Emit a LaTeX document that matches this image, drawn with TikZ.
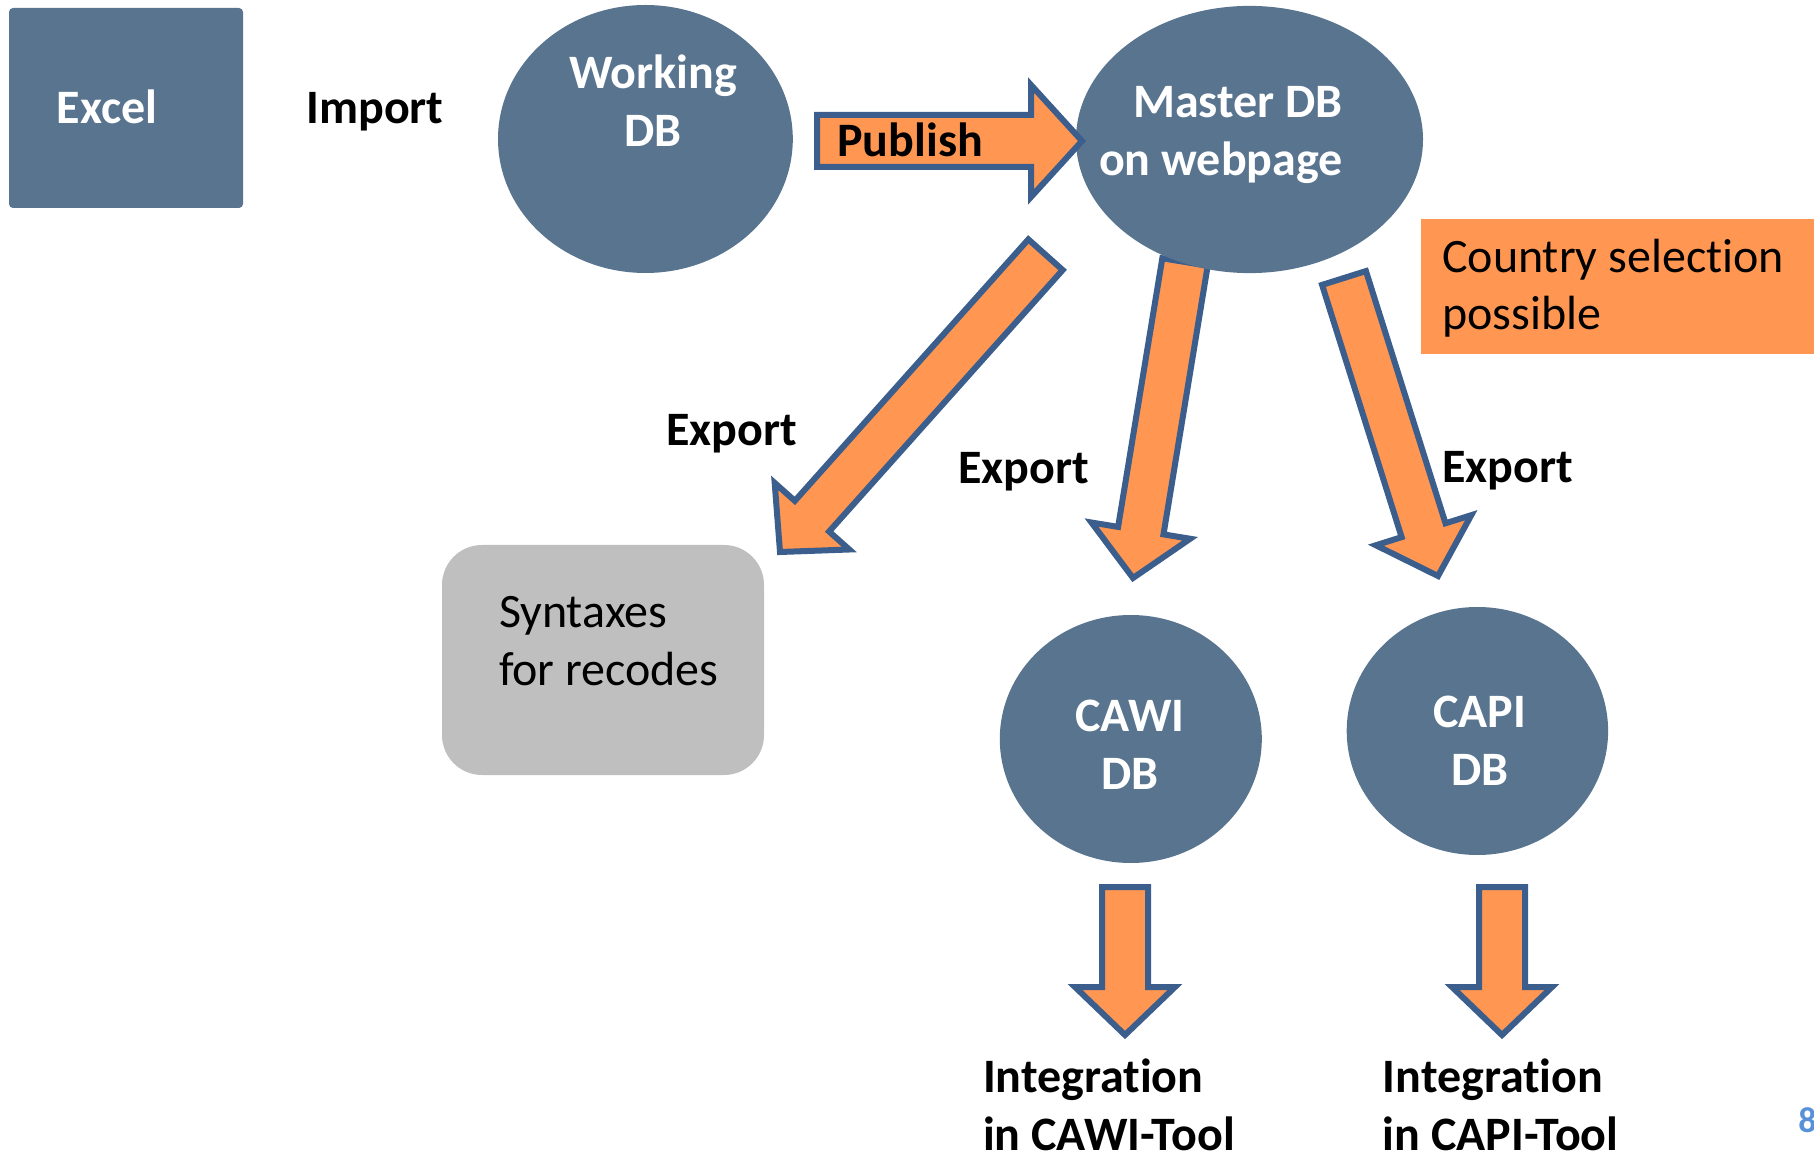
\documentclass[tikz,border=0pt]{standalone}
\usepackage{fontspec}
\setmainfont{Carlito}[Ligatures=NoCommon]
\usetikzlibrary{shapes.geometric,calc}
\definecolor{dbblue}{RGB}{89,116,143}
\definecolor{arrline}{RGB}{59,94,140}
\definecolor{arrfill}{RGB}{255,151,83}
\definecolor{synt}{RGB}{191,191,191}
\definecolor{pagenum}{RGB}{88,145,215}
\pgfdeclarelayer{bg}
\pgfsetlayers{bg,main}
% tail, tip, half shaft width, half head width, head length
\newcommand\blockarrow[5]{%
  \coordinate (ba-n) at ($(#2)!#5!(#1)$);
  \draw[barrow] ($(#1)!#3!90:(#2)$) -- ($(ba-n)!#3!90:(#2)$) -- ($(ba-n)!#4!90:(#2)$)
    -- (#2) -- ($(ba-n)!#4!-90:(#2)$) -- ($(ba-n)!#3!-90:(#2)$) -- ($(#1)!#3!-90:(#2)$) -- cycle;}
\begin{document}
\begin{tikzpicture}[x=0.5pt,y=-0.5pt,
  dbell/.style={ellipse, fill=dbblue, draw=none, inner sep=0},
  btext/.style={font=\fontsize{24}{29}\selectfont\bfseries, inner sep=0},
  wtext/.style={btext, text=white},
  rtext/.style={font=\fontsize{24}{28.5}\selectfont, inner sep=0},
  barrow/.style={draw=arrline, fill=arrfill, line width=3pt, line join=miter}]
\useasboundingbox (0,0) rectangle (1814,1159);

% shapes
\node[fill=dbblue, rounded corners=2pt, minimum width=117pt, minimum height=100pt, inner sep=0] (excel) at (126,108) {};
\node[dbell, minimum width=147.4pt, minimum height=134pt] (work) at (645.4,139) {};
\node[dbell, minimum width=173.5pt, minimum height=133.6pt] (master) at (1249.5,139.5) {};
\node[dbell, minimum width=131pt, minimum height=124pt] (cawi) at (1130.8,739) {};
\node[dbell, minimum width=130.7pt, minimum height=124pt] (capi) at (1477.4,731) {};
\node[fill=synt, rounded corners=20pt, minimum width=161pt, minimum height=115pt, inner sep=0] (syn) at (603,660) {};
\node[fill=arrfill, minimum width=196.5pt, minimum height=67.5pt, inner sep=0] (country) at (1617.5,286.5) {};

% arrow end points
\coordinate (pubT) at (817,141);   \coordinate (pubP) at (1082,141);
\coordinate (synT) at (1045.5,254.7); \coordinate (synP) at (780,552);
\coordinate (cawT) at (1185,262);  \coordinate (cawP) at (1133,578);
\coordinate (capT) at (1344,278);  \coordinate (capP) at (1438,576);
\coordinate (icwT) at (1125,887);  \coordinate (icwP) at (1125,1035);
\coordinate (icpT) at (1502,887);  \coordinate (icpP) at (1502,1035);

\begin{pgfonlayer}{bg}
\blockarrow{cawT}{cawP}{11.5pt}{25pt}{24pt}
\end{pgfonlayer}
\blockarrow{pubT}{pubP}{13pt}{28pt}{25.5pt}
\blockarrow{synT}{synP}{11.5pt}{25pt}{24pt}
\blockarrow{capT}{capP}{11.5pt}{25pt}{24pt}
\blockarrow{icwT}{icwP}{11.5pt}{25pt}{24pt}
\blockarrow{icpT}{icpP}{11.5pt}{25pt}{24pt}

% texts (anchor base = baseline of the last line)
\node[wtext, anchor=base] (excelt) at (107,124) {Excel};
\node[btext, anchor=base] (import) at (375,124) {Import};
\node[wtext, anchor=base, align=center] (workt) at (653,147) {Working\\DB};
\node[wtext, anchor=base east, align=right] (mastert) at (1343,175.5) {Master DB\\on webpage};
\node[btext, anchor=base west] (pubt) at (837,157) {Publish};
\node[btext, anchor=base west] (exp1) at (666,446) {Export};
\node[btext, anchor=base west] (exp2) at (958,484) {Export};
\node[btext, anchor=base west] (exp3) at (1442,483) {Export};
\node[rtext, anchor=base west, align=left] (synt) at (498.6,685) {Syntaxes\\for recodes};
\node[wtext, anchor=base, align=center] (cawit) at (1130,789) {CAWI\\DB};
\node[wtext, anchor=base, align=center] (capit) at (1479.6,785.5) {CAPI\\DB};
\node[rtext, anchor=base west, align=left] (countryt) at (1441.7,330) {Country selection\\possible};
\node[btext, anchor=base west, align=left] (intcw) at (982.7,1150) {Integration\\in CAWI-Tool};
\node[btext, anchor=base west, align=left] (intcp) at (1382.5,1150) {Integration\\in CAPI-Tool};
\node[font=\fontsize{18}{20}\selectfont\bfseries, text=pagenum, inner sep=0, anchor=base west] (pnum) at (1798,1132) {8};
\end{tikzpicture}
\end{document}
